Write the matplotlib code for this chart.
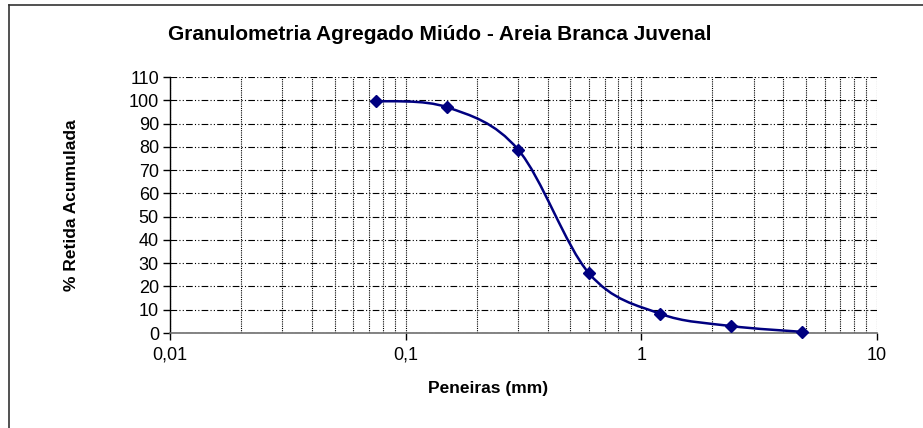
import numpy as np
import matplotlib
matplotlib.use("Agg")
import matplotlib.pyplot as plt
from matplotlib.path import Path
from matplotlib.patches import PathPatch
from matplotlib.lines import Line2D
from matplotlib.ticker import FixedLocator, FixedFormatter, LogLocator, NullFormatter

plt.rcParams['font.family'] = ['Liberation Sans', 'DejaVu Sans']

# Sieve openings (mm) and cumulative retained percentage
peneiras = [0.075, 0.15, 0.3, 0.6, 1.2, 2.4, 4.8]
retida_acumulada = [99.7, 97.0, 78.8, 25.6, 8.3, 3.0, 0.5]

x_ticks = [0.01, 0.1, 1, 10]
x_tick_labels = ["0,01", "0,1", "1", "10"]
y_ticks = list(range(0, 111, 10))

navy = "#000080"

fig = plt.figure(figsize=(9.23, 4.28), dpi=100)
ax = fig.add_axes([170 / 923, 1 - 333 / 428, (877 - 170) / 923, (333 - 77) / 428])

ax.set_xscale("log")
ax.set_xlim(0.01, 10)
ax.set_ylim(0, 110)

# Smoothed line: cubic Bezier segments built in log-x space (Catmull-Rom style)
lx = np.log10(peneiras)
yy = np.asarray(retida_acumulada, dtype=float)
pts = np.column_stack([lx, yy])
n = len(pts)
verts = [pts[0]]
codes = [Path.MOVETO]
t = 1.0 / 6.0
for i in range(n - 1):
    p0 = pts[i - 1] if i > 0 else pts[i]
    p1 = pts[i]
    p2 = pts[i + 1]
    p3 = pts[i + 2] if i + 2 < n else pts[i + 1]
    c1 = p1 + (p2 - p0) * t
    c2 = p2 - (p3 - p1) * t
    verts += [c1, c2, p2]
    codes += [Path.CURVE4, Path.CURVE4, Path.CURVE4]
verts = np.array(verts)
verts[:, 0] = 10 ** verts[:, 0]
curve = PathPatch(Path(verts, codes), facecolor="none", edgecolor=navy, lw=1.8,
                  zorder=3, transform=ax.transData)
ax.add_patch(curve)

ax.plot(peneiras, retida_acumulada, linestyle="none", marker="D", markersize=6.5,
        color=navy, zorder=4, clip_on=False)

# Grid: dotted verticals at every log step, dash-dot horizontals
ax.xaxis.set_major_locator(FixedLocator(x_ticks))
ax.xaxis.set_major_formatter(FixedFormatter(x_tick_labels))
ax.xaxis.set_minor_locator(LogLocator(base=10, subs=np.arange(2, 10)))
ax.xaxis.set_minor_formatter(NullFormatter())
ax.yaxis.set_major_locator(FixedLocator(y_ticks))

ax.grid(True, axis="x", which="both", color="black", linestyle=(0, (1, 1)), lw=0.8)
ax.grid(True, axis="y", which="major", color="black",
        linestyle=(0, (6, 2, 1, 2, 1, 2)), lw=0.8)
ax.set_axisbelow(True)

for s in ("top", "right"):
    ax.spines[s].set_visible(False)
ax.spines["left"].set_color("black")
ax.spines["left"].set_linewidth(1.0)
ax.spines["bottom"].set_color("#6e6e6e")
ax.spines["bottom"].set_linewidth(1.2)

ax.tick_params(axis="both", which="major", direction="out", length=5, width=1,
               labelsize=13, colors="black", pad=3)
ax.tick_params(axis="x", which="minor", length=0)
ax.tick_params(axis="x", which="major", pad=5)

fig.text(440 / 923, 1 - 35 / 428, "Granulometria Agregado Miúdo - Areia Branca Juvenal",
         ha="center", va="center", fontsize=15, fontweight="bold")
fig.text(488 / 923, 1 - 389 / 428, "Peneiras (mm)", ha="center", va="center",
         fontsize=12.5, fontweight="bold")
fig.text(72 / 923, 1 - 205 / 428, "% Retida Acumulada", ha="center", va="center",
         rotation=90, fontsize=12.5, fontweight="bold")

# Outer chart frame (left and top edges)
fig.add_artist(Line2D([8.5 / 923, 8.5 / 923], [0, 1 - 5 / 428], color="#333333",
                      lw=1.2, transform=fig.transFigure))
fig.add_artist(Line2D([8.5 / 923, 1], [1 - 5 / 428, 1 - 5 / 428], color="#333333",
                      lw=1.2, transform=fig.transFigure))

fig.savefig("out.png", dpi=100, facecolor="white")
